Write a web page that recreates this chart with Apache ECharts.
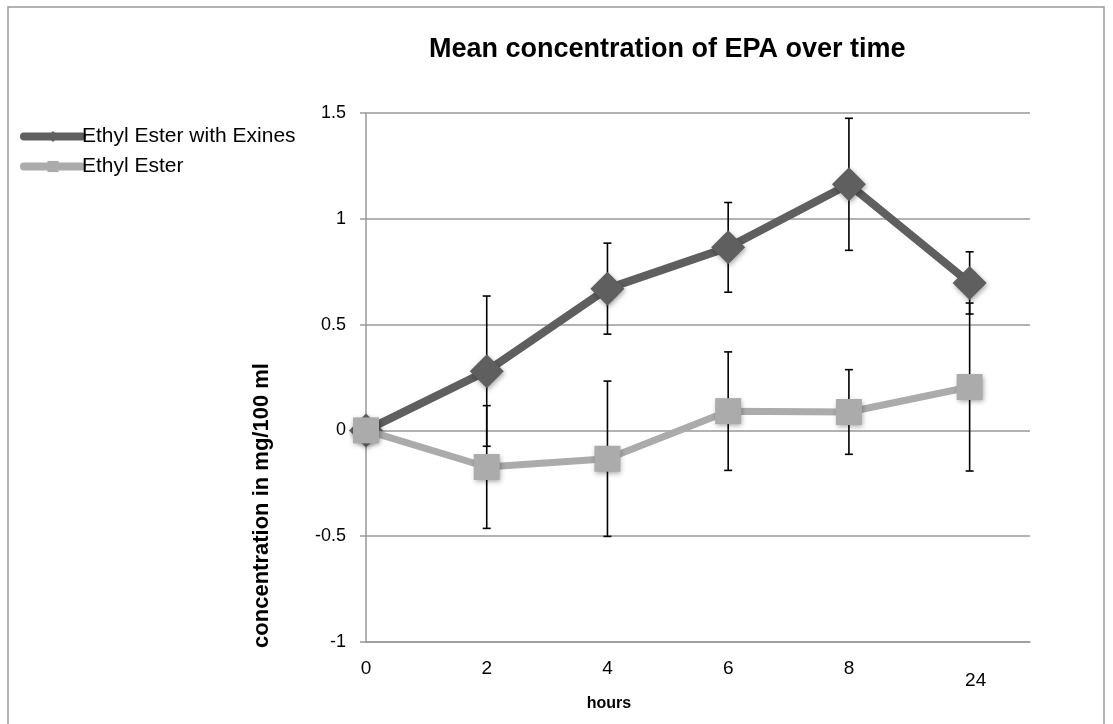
<!DOCTYPE html>
<html>
<head>
<meta charset="utf-8">
<script src="https://cdn.jsdelivr.net/npm/echarts@6/dist/echarts.min.js"></script>
<style>
  html, body { margin: 0; padding: 0; background: #fff; }
  #main { width: 1113px; height: 724px; }
</style>
</head>
<body>
<div id="main"></div>
<script>
  // hours; the last point (24 h) sits on slot 10 of the axis
  var hourLabels = ['0', '2', '4', '6', '8', '24'];
  var xPos = [0, 2, 4, 6, 8, 10];

  var exines = [0, 0.28, 0.67, 0.865, 1.163, 0.697];
  var exinesErr = [0, 0.355, 0.215, 0.212, 0.312, 0.147];

  var ester = [0, -0.173, -0.134, 0.091, 0.087, 0.205];
  var esterErr = [0, 0.29, 0.367, 0.28, 0.2, 0.397];

  var yTicks = [-1, -0.5, 0, 0.5, 1, 1.5];

  var font = '"Liberation Sans", Arial, sans-serif';

  function pairs(vals) {
    return xPos.map(function (x, i) { return [x, vals[i]]; });
  }
  function errData(vals, errs) {
    var out = [];
    xPos.forEach(function (x, i) {
      if (errs[i] > 0) out.push([x, vals[i] - errs[i], vals[i] + errs[i]]);
    });
    return out;
  }
  function renderErr(params, api) {
    var x = api.value(0);
    var lo = api.coord([x, api.value(1)]);
    var hi = api.coord([x, api.value(2)]);
    var half = 4;
    var st = { stroke: '#000', lineWidth: 1.6 };
    return {
      type: 'group',
      children: [
        { type: 'line', shape: { x1: lo[0], y1: lo[1], x2: hi[0], y2: hi[1] }, style: st },
        { type: 'line', shape: { x1: lo[0] - half, y1: lo[1], x2: lo[0] + half, y2: lo[1] }, style: st },
        { type: 'line', shape: { x1: hi[0] - half, y1: hi[1], x2: hi[0] + half, y2: hi[1] }, style: st }
      ]
    };
  }

  var markShadow = {
    shadowBlur: 5,
    shadowColor: 'rgba(0,0,0,0.35)',
    shadowOffsetX: 1,
    shadowOffsetY: 2
  };

  var option = {
    animation: false,
    textStyle: { fontFamily: font },
    title: {
      text: 'Mean concentration of EPA over time',
      left: 424,
      top: 31,
      textStyle: { fontSize: 27, fontWeight: 'bold', color: '#000', fontFamily: font }
    },
    legend: {
      orient: 'vertical',
      left: 15,
      top: 121,
      itemWidth: 58,
      itemHeight: 14,
      itemGap: 9,
      lineStyle: { width: 8, cap: 'round' },
      textStyle: { fontSize: 21, color: '#000', fontFamily: font, padding: [0, 0, 0, -5] },
      data: ['Ethyl Ester with Exines', 'Ethyl Ester']
    },
    grid: { left: 366, right: 83, top: 113, bottom: 82 },
    xAxis: {
      type: 'value',
      min: 0,
      max: 11,
      interval: 2,
      name: 'hours',
      nameLocation: 'middle',
      nameGap: 54,
      nameTextStyle: { fontSize: 16, fontWeight: 'bold', color: '#000', padding: [0, 178, 0, 0] },
      axisLine: { onZero: false, lineStyle: { color: '#999', width: 1.5 } },
      axisTick: { show: false },
      splitLine: { show: false },
      axisLabel: {
        showMaxLabel: false,
        margin: 17,
        fontSize: 19,
        color: '#000',
        formatter: function (v) {
          var i = xPos.indexOf(v);
          if (i < 0) return '';
          return i === xPos.length - 1 ? '{low|' + hourLabels[i] + '}' : hourLabels[i];
        },
        rich: { low: { fontSize: 19, color: '#000', padding: [12, 0, 0, 12] } }
      }
    },
    yAxis: {
      type: 'value',
      min: yTicks[0],
      max: yTicks[yTicks.length - 1],
      interval: 0.5,
      name: 'concentration in mg/100 ml',
      nameLocation: 'middle',
      nameGap: 93,
      nameTextStyle: { fontSize: 22, fontWeight: 'bold', color: '#000', padding: [0, 256, 0, 0] },
      axisLine: { show: true, lineStyle: { color: '#999', width: 1.5 } },
      axisTick: { show: true, length: 6, lineStyle: { color: '#999', width: 1.5 } },
      splitLine: { lineStyle: { color: '#999', width: 1.5 } },
      axisLabel: { margin: 20, fontSize: 18, color: '#000' }
    },
    graphic: [{
      type: 'rect',
      shape: { x: 8, y: 7, width: 1096, height: 740 },
      style: { fill: 'none', stroke: '#999', lineWidth: 1.5 },
      silent: true
    }],
    series: [
      {
        type: 'custom',
        name: 'err1',
        renderItem: renderErr,
        data: errData(exines, exinesErr),
        z: 1,
        encode: { x: 0, y: [1, 2] }
      },
      {
        type: 'custom',
        name: 'err2',
        renderItem: renderErr,
        data: errData(ester, esterErr),
        z: 1,
        encode: { x: 0, y: [1, 2] }
      },
      {
        name: 'Ethyl Ester with Exines',
        type: 'line',
        data: pairs(exines),
        z: 3,
        symbol: 'diamond',
        symbolSize: 34,
        lineStyle: { color: '#5f5f5f', width: 8 },
        itemStyle: Object.assign({ color: '#5f5f5f' }, markShadow)
      },
      {
        name: 'Ethyl Ester',
        type: 'line',
        data: pairs(ester),
        z: 4,
        symbol: 'rect',
        symbolSize: 26,
        lineStyle: { color: '#ababab', width: 7 },
        itemStyle: Object.assign({ color: '#ababab' }, markShadow)
      }
    ]
  };

  var chart = echarts.init(document.getElementById('main'));
  chart.setOption(option);
</script>
</body>
</html>
